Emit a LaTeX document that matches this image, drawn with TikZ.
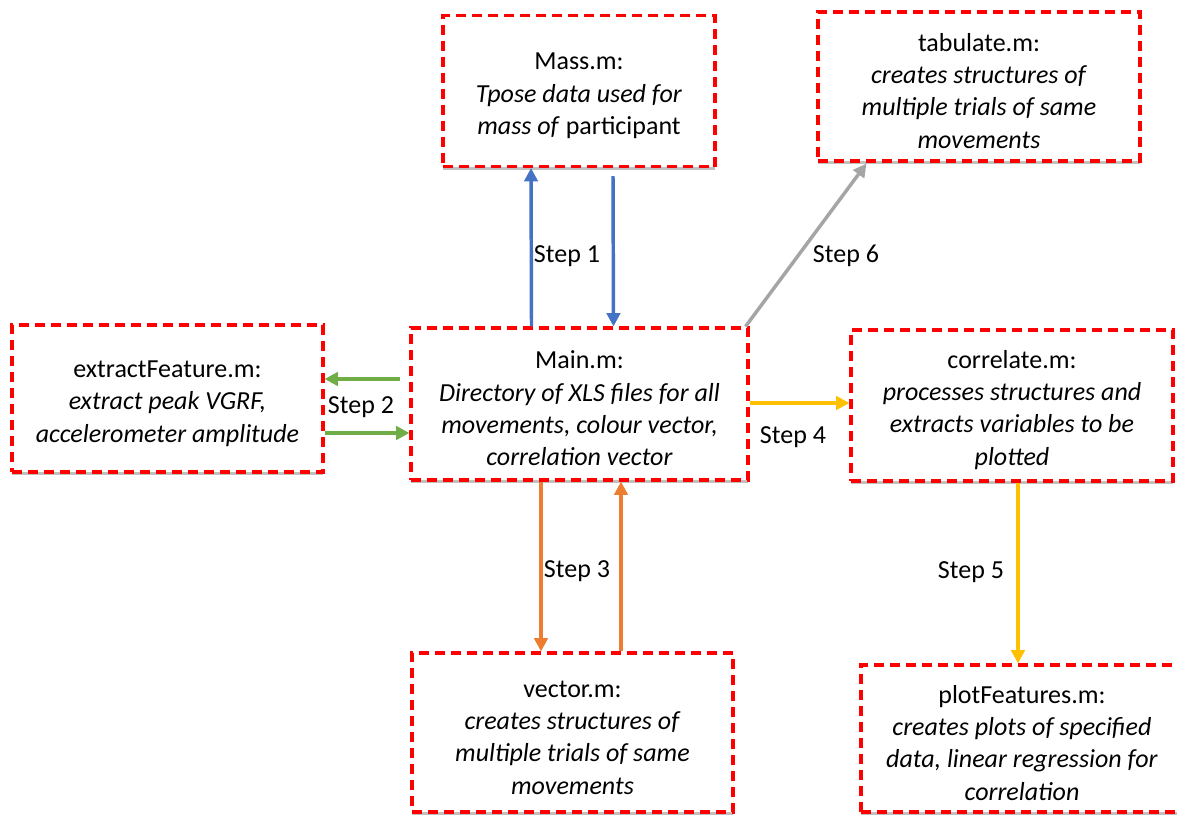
\documentclass[tikz,border=0pt]{standalone}
\usepackage{fontspec}
\setmainfont{Carlito}
\usetikzlibrary{arrows.meta,calc,positioning,shadows}
\definecolor{flred}{RGB}{255,0,0}
\definecolor{flblue}{RGB}{68,114,196}
\definecolor{flgreen}{RGB}{112,173,71}
\definecolor{florange}{RGB}{237,125,49}
\definecolor{flyellow}{RGB}{255,192,0}
\definecolor{flgray}{RGB}{165,165,165}

\begin{document}
\begin{tikzpicture}[
    x=0.75pt, y=-0.75pt,
    >={Triangle[length=10pt,width=10pt]},
    box/.style={
        draw=flred,
        line width=2.3pt,
        dash pattern=on 7.5pt off 4.5pt,
        fill=white,
        drop shadow={shadow xshift=0pt, shadow yshift=-2.5pt, opacity=0.45, fill=black!55},
        inner sep=0pt,
        align=center,
        font=\fontsize{19.5}{24.2}\selectfont
    },
    arrow/.style={->, line width=2.6pt},
    steplabel/.style={font=\fontsize{19.5}{24.2}\selectfont}
]
\useasboundingbox (0,0) rectangle (1177,814);

% Boxes.
\node[box, minimum width=272*0.75pt, minimum height=151*0.75pt] (mass) at (579,91)
    {\rule{0pt}{20pt}Mass.m:\\ \textit{Tpose data used for}\\ \textit{mass of} participant};
\node[box, minimum width=322*0.75pt, minimum height=149*0.75pt] (tabulate) at (979,86.5)
    {\rule{0pt}{20pt}tabulate.m:\\ \textit{creates structures of}\\ \textit{multiple trials of same}\\ \textit{movements}};
\node[box, minimum width=311*0.75pt, minimum height=147*0.75pt] (extract) at (167.5,398.5)
    {\rule{0pt}{20pt}extractFeature.m:\\ \textit{extract peak VGRF,}\\ \textit{accelerometer amplitude}};
\node[box, minimum width=337*0.75pt, minimum height=152*0.75pt] (main) at (579.5,404)
    {\rule{0pt}{20pt}Main.m:\\ \textit{Directory of XLS files for all}\\ \textit{movements, colour vector,}\\ \textit{correlation vector}};
\node[box, minimum width=322*0.75pt, minimum height=151*0.75pt] (correlate) at (1012,405.5)
    {\rule{0pt}{20pt}correlate.m:\\ \textit{processes structures and}\\ \textit{extracts variables to be}\\ \textit{plotted}};
\node[box, minimum width=321*0.75pt, minimum height=159*0.75pt] (vector) at (572.5,732.5)
    {\rule{0pt}{20pt}vector.m:\\ \textit{creates structures of}\\ \textit{multiple trials of same}\\ \textit{movements}};
\node[box, minimum width=322*0.75pt, minimum height=147*0.75pt] (plotfeat) at (1022,738.5)
    {\rule{0pt}{20pt}plotFeatures.m:\\ \textit{creates plots of specified}\\ \textit{data, linear regression for}\\ \textit{correlation}};

% Step 1.
\draw[arrow, flblue] ($(main.north)+(-48,0)$) -- ($(mass.south)+(-48,0)$);
\draw[arrow, flblue] ($(mass.south)+(34,8)$) -- ($(main.north)+(34,0)$);
\node[steplabel] (s1) at (567,256) {Step 1};

% Step 2.
\draw[arrow, flgreen] ($(main.west)+(-9,-25)$) -- ($(extract.east)+(0,-19.5)$);
\draw[arrow, flgreen] ($(extract.east)+(0,34.5)$) -- ($(main.west)+(0,29)$);
\node[steplabel] (s2) at (361,407) {Step 2};

% Step 3.
\draw[arrow, florange] ($(main.south)+(-38.5,0)$) -- ($(vector.north)+(-31.5,0)$);
\draw[arrow, florange] ($(vector.north)+(48.5,0)$) -- ($(main.south)+(41.5,0)$);
\node[steplabel] (s3) at (577,571) {Step 3};

% Step 4 and 5.
\draw[arrow, flyellow] ($(main.east)+(0,-1)$) -- ($(correlate.west)+(0,-2.5)$);
\node[steplabel] (s4) at (793,437) {Step 4};
\draw[arrow, flyellow] ($(correlate.south)+(6,0)$) -- ($(plotfeat.north)+(-4,0)$);
\node[steplabel] (s5) at (971,572) {Step 5};

% Step 6.
\draw[arrow, flgray] ($(main.north east)+(-4,0)$) -- ($(tabulate.south west)+(50,1)$);
\node[steplabel] (s6) at (846,256) {Step 6};

\end{tikzpicture}
\end{document}
